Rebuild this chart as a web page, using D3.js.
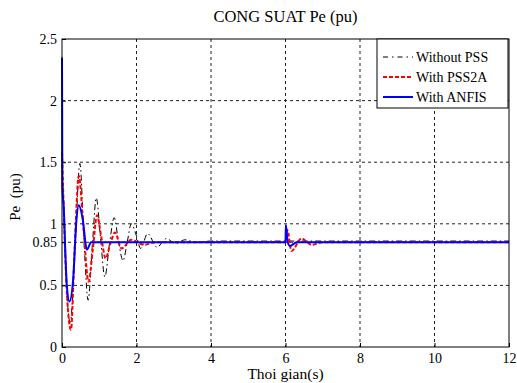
<!DOCTYPE html>
<html>
<head>
<meta charset="utf-8">
<script src="https://cdn.jsdelivr.net/npm/d3@7"></script>
<style>
  body { margin: 0; background: #fff; }
  svg text { font-family: "Liberation Serif", "DejaVu Serif", serif; }
</style>
</head>
<body>
<div id="chart"></div>
<script>
// data (time in s, power in pu)
const noPssT = [0, 0.05, 0.12, 0.22, 0.35, 0.48, 0.6, 0.7, 0.82, 0.92, 1.03, 1.15, 1.28, 1.4, 1.52, 1.64, 1.75, 1.86, 2.0, 2.11, 2.3, 2.55, 2.8, 3.05, 3.3, 3.6, 4.0, 12];
const noPssV = [1.55, 1.05, 0.5, 0.2, 0.8, 1.49, 0.8, 0.38, 0.85, 1.21, 0.9, 0.57, 0.85, 1.05, 0.85, 0.7, 0.85, 1.0, 0.9, 0.8, 0.92, 0.81, 0.88, 0.84, 0.87, 0.85, 0.86, 0.86];

const pssT = [0, 0.06, 0.12, 0.24, 0.34, 0.45, 0.58, 0.71, 0.83, 0.94, 1.05, 1.17, 1.3, 1.42, 1.6, 1.86, 2.2, 2.5, 6.0, 6.05, 6.16, 6.43, 6.7, 7.0, 12];
const pssV = [1.58, 1.0, 0.5, 0.14, 0.8, 1.39, 0.95, 0.53, 0.8, 1.07, 0.9, 0.72, 0.84, 0.93, 0.8, 0.87, 0.83, 0.85, 0.85, 0.95, 0.78, 0.88, 0.83, 0.85, 0.85];

const anfisT = [0, 0.01, 0.05, 0.08, 0.13, 0.2, 0.3, 0.38, 0.45, 0.55, 0.67, 0.78, 0.9, 6.0, 6.01, 6.06, 6.12, 6.3, 12];
const anfisV = [2.35, 1.3, 1.12, 0.85, 0.5, 0.37, 0.55, 1.0, 1.15, 1.05, 0.79, 0.85, 0.85, 0.85, 0.99, 0.85, 0.82, 0.85, 0.85];

const xTicks = [0, 2, 4, 6, 8, 10, 12];
const yTicks = [0, 0.5, 0.85, 1, 1.5, 2, 2.5];
const seriesNames = ["Without PSS", "With PSS2A", "With ANFIS"];

const W = 517, H = 383;
const margin = { top: 39, right: 8, bottom: 36, left: 62 };
const width = W - margin.left - margin.right;
const height = H - margin.top - margin.bottom;

const svg = d3.select("#chart").append("svg")
  .attr("width", W)
  .attr("height", H);

const g = svg.append("g")
  .attr("transform", `translate(${margin.left},${margin.top})`);

const x = d3.scaleLinear().domain([0, 12]).range([0, width]);
const y = d3.scaleLinear().domain([0, 2.5]).range([height, 0]);

// grid
g.append("g")
  .selectAll("line.vg")
  .data(xTicks.slice(1, -1))
  .join("line")
  .attr("x1", d => x(d)).attr("x2", d => x(d))
  .attr("y1", 0).attr("y2", height)
  .attr("stroke", "#222").attr("stroke-width", 1)
  .attr("stroke-dasharray", "3,3");

g.append("g")
  .selectAll("line.hg")
  .data(yTicks.slice(1, -1))
  .join("line")
  .attr("x1", 0).attr("x2", width)
  .attr("y1", d => y(d)).attr("y2", d => y(d))
  .attr("stroke", "#222").attr("stroke-width", 1)
  .attr("stroke-dasharray", "3,3");

// series
const line = d3.line()
  .x(d => x(d[0]))
  .y(d => y(d[1]))
  .curve(d3.curveMonotoneX);

const series = [
  { t: noPssT, v: noPssV, color: "#000", width: 1, dash: "6,3,1.5,3" },
  { t: pssT, v: pssV, color: "#ff0000", width: 2, dash: "4,2" },
  { t: anfisT, v: anfisV, color: "#0000ff", width: 2, dash: null }
];

series.forEach(s => {
  g.append("path")
    .datum(s.t.map((t, i) => [t, s.v[i]]))
    .attr("fill", "none")
    .attr("stroke", s.color)
    .attr("stroke-width", s.width)
    .attr("stroke-dasharray", s.dash)
    .attr("d", line);
});

// axes
const xAxis = g.append("g")
  .attr("transform", `translate(0,${height})`)
  .call(d3.axisBottom(x).tickValues(xTicks).tickSize(-4).tickPadding(6).tickFormat(d3.format("d")));
const yAxis = g.append("g")
  .call(d3.axisLeft(y).tickValues(yTicks).tickSize(-4).tickPadding(5).tickFormat(d => d));

[xAxis, yAxis].forEach(a => {
  a.select(".domain").remove();
  a.selectAll("text").attr("font-size", 14).attr("fill", "#000")
    .style("font-family", "Liberation Serif, serif");
  a.selectAll("line").attr("stroke", "#000");
});

// frame
g.append("rect")
  .attr("width", width).attr("height", height)
  .attr("fill", "none").attr("stroke", "#000").attr("stroke-width", 1);

// titles
svg.append("text")
  .attr("x", margin.left + width / 2).attr("y", 22)
  .attr("text-anchor", "middle").attr("font-size", 16.5)
  .text("CONG SUAT Pe (pu)");

svg.append("text")
  .attr("x", margin.left + width / 2).attr("y", 379)
  .attr("text-anchor", "middle").attr("font-size", 15.5)
  .text("Thoi gian(s)");

svg.append("text")
  .attr("transform", `translate(20,${margin.top + height / 2 + 4}) rotate(-90)`)
  .attr("text-anchor", "middle").attr("font-size", 15)
  .attr("xml:space", "preserve")
  .text("Pe  (pu)");

// legend
const legend = g.append("g")
  .attr("transform", `translate(${width - 132},${0})`);

legend.append("rect")
  .attr("width", 131).attr("height", 69)
  .attr("fill", "#fff").attr("stroke", "#000").attr("stroke-width", 1);

seriesNames.forEach((name, i) => {
  const s = series[i];
  const row = legend.append("g").attr("transform", `translate(0,${18 + i * 20})`);
  row.append("line")
    .attr("x1", 6).attr("x2", 36)
    .attr("stroke", s.color)
    .attr("stroke-width", s.width)
    .attr("stroke-dasharray", i === 0 ? "5,4,1.5,4" : s.dash);
  row.append("text")
    .attr("x", 39).attr("y", 5)
    .attr("font-size", 14)
    .text(name);
});
</script>
</body>
</html>
